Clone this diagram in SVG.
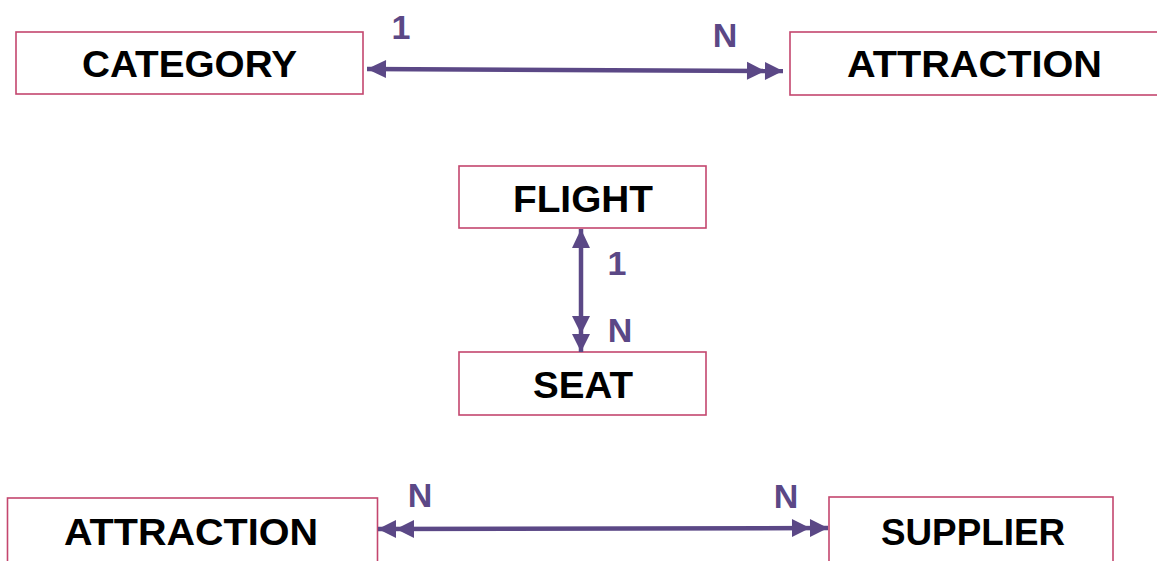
<svg xmlns="http://www.w3.org/2000/svg" width="1157" height="561" viewBox="0 0 1157 561">
  <style>
    .box { fill: #ffffff; stroke: #c4466e; stroke-width: 1.6; }
    .name { font-family: "Liberation Sans", Arial, sans-serif; font-weight: bold; font-size: 37px; fill: #000000; text-anchor: middle; }
    .card { font-family: "Liberation Sans", Arial, sans-serif; font-weight: bold; font-size: 34px; fill: #5b4886; text-anchor: middle; }
    .rel { stroke: #5b4886; stroke-width: 4.5; fill: none; }
  </style>
  <defs>
    <!-- single arrowhead: "one" end -->
    <marker id="one" markerUnits="userSpaceOnUse" markerWidth="19" markerHeight="18" refX="19" refY="9" orient="auto-start-reverse" overflow="visible">
      <path d="M0,0 L19,9 L0,18 Z" fill="#5b4886"/>
    </marker>
    <!-- double arrowhead: "many" end -->
    <marker id="many" markerUnits="userSpaceOnUse" markerWidth="36" markerHeight="18" refX="36" refY="9" orient="auto-start-reverse" overflow="visible">
      <path d="M0,0 L18,9 L0,18 Z M18,0 L36,9 L18,18 Z" fill="#5b4886"/>
    </marker>
  </defs>

  <g id="category">
    <rect class="box" x="16" y="32" width="347" height="62"/>
    <text class="name" x="189.5" y="77" textLength="215" lengthAdjust="spacingAndGlyphs">CATEGORY</text>
  </g>
  <g id="attraction-top">
    <rect class="box" x="790" y="32" width="372" height="63"/>
    <text class="name" x="974.5" y="77" textLength="255" lengthAdjust="spacingAndGlyphs">ATTRACTION</text>
  </g>
  <g id="flight">
    <rect class="box" x="459" y="166" width="247" height="62"/>
    <text class="name" x="583" y="212" textLength="140" lengthAdjust="spacingAndGlyphs">FLIGHT</text>
  </g>
  <g id="seat">
    <rect class="box" x="459" y="352" width="247" height="63"/>
    <text class="name" x="583" y="398" textLength="100" lengthAdjust="spacingAndGlyphs">SEAT</text>
  </g>
  <g id="attraction-bottom">
    <rect class="box" x="7.5" y="498" width="370" height="70"/>
    <text class="name" x="191" y="545" textLength="254" lengthAdjust="spacingAndGlyphs">ATTRACTION</text>
  </g>
  <g id="supplier">
    <rect class="box" x="829" y="497" width="284" height="70"/>
    <text class="name" x="973" y="545" textLength="184" lengthAdjust="spacingAndGlyphs">SUPPLIER</text>
  </g>

  <g id="connectors">
    <line class="rel" x1="367" y1="69" x2="783" y2="71" marker-start="url(#one)" marker-end="url(#many)"/>
    <text class="card" x="401" y="39">1</text>
    <text class="card" x="725" y="47">N</text>

    <line class="rel" x1="581" y1="229" x2="581" y2="352" marker-start="url(#one)" marker-end="url(#many)"/>
    <text class="card" x="617" y="275">1</text>
    <text class="card" x="620" y="342">N</text>

    <line class="rel" x1="378" y1="529" x2="828" y2="528" marker-start="url(#many)" marker-end="url(#many)"/>
    <text class="card" x="420" y="507">N</text>
    <text class="card" x="786" y="508">N</text>
  </g>
</svg>
